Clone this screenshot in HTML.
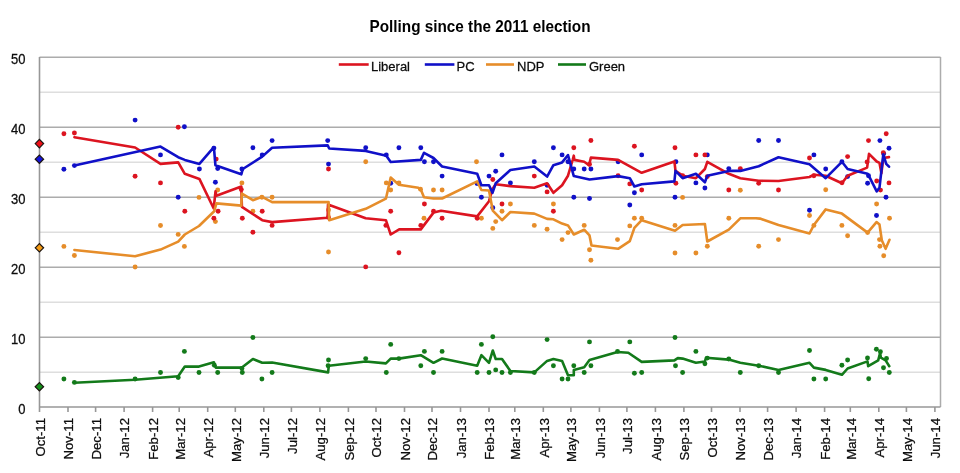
<!DOCTYPE html>
<html><head><meta charset="utf-8"><style>
html,body{margin:0;padding:0;background:#fff;}
body{width:960px;height:473px;overflow:hidden;}
svg{display:block;filter:blur(0.3px);}
.ax{font-family:"Liberation Sans",sans-serif;font-size:13px;fill:#0d0d0d;stroke:#0d0d0d;stroke-width:0.25px;}
.xl{font-size:13.2px;}
.title{font-family:"Liberation Sans",sans-serif;font-size:15.3px;font-weight:bold;fill:#000;}
</style></head><body>
<svg width="960" height="473" viewBox="0 0 960 473">
<rect width="960" height="473" fill="#fff"/>
<line x1="39.5" x2="940.5" y1="372.2" y2="372.2" stroke="#dedede" stroke-width="1.4"/>
<line x1="39.5" x2="940.5" y1="302.2" y2="302.2" stroke="#dedede" stroke-width="1.4"/>
<line x1="39.5" x2="940.5" y1="232.2" y2="232.2" stroke="#dedede" stroke-width="1.4"/>
<line x1="39.5" x2="940.5" y1="162.2" y2="162.2" stroke="#dedede" stroke-width="1.4"/>
<line x1="39.5" x2="940.5" y1="92.19999999999999" y2="92.19999999999999" stroke="#dedede" stroke-width="1.4"/>
<line x1="39.5" x2="940.5" y1="337.2" y2="337.2" stroke="#acacac" stroke-width="1.5"/>
<line x1="39.5" x2="940.5" y1="267.2" y2="267.2" stroke="#acacac" stroke-width="1.5"/>
<line x1="39.5" x2="940.5" y1="197.2" y2="197.2" stroke="#acacac" stroke-width="1.5"/>
<line x1="39.5" x2="940.5" y1="127.19999999999999" y2="127.19999999999999" stroke="#acacac" stroke-width="1.5"/>
<line x1="39.5" x2="940.5" y1="57.19999999999999" y2="57.19999999999999" stroke="#acacac" stroke-width="1.5"/>
<line x1="940.5" x2="940.5" y1="57.0" y2="407.0" stroke="#acacac" stroke-width="1.5"/>
<line x1="39.5" x2="39.5" y1="57.0" y2="407.0" stroke="#979797" stroke-width="1.6"/>
<line x1="39.5" x2="940.5" y1="407.0" y2="407.0" stroke="#979797" stroke-width="1.6"/>
<line x1="39.5" x2="39.5" y1="407.0" y2="412.0" stroke="#979797" stroke-width="1.6"/>
<line x1="68.0" x2="68.0" y1="407.0" y2="412.0" stroke="#979797" stroke-width="1.6"/>
<line x1="95.6" x2="95.6" y1="407.0" y2="412.0" stroke="#979797" stroke-width="1.6"/>
<line x1="124.1" x2="124.1" y1="407.0" y2="412.0" stroke="#979797" stroke-width="1.6"/>
<line x1="152.6" x2="152.6" y1="407.0" y2="412.0" stroke="#979797" stroke-width="1.6"/>
<line x1="179.2" x2="179.2" y1="407.0" y2="412.0" stroke="#979797" stroke-width="1.6"/>
<line x1="207.7" x2="207.7" y1="407.0" y2="412.0" stroke="#979797" stroke-width="1.6"/>
<line x1="235.3" x2="235.3" y1="407.0" y2="412.0" stroke="#979797" stroke-width="1.6"/>
<line x1="263.8" x2="263.8" y1="407.0" y2="412.0" stroke="#979797" stroke-width="1.6"/>
<line x1="291.4" x2="291.4" y1="407.0" y2="412.0" stroke="#979797" stroke-width="1.6"/>
<line x1="319.9" x2="319.9" y1="407.0" y2="412.0" stroke="#979797" stroke-width="1.6"/>
<line x1="348.4" x2="348.4" y1="407.0" y2="412.0" stroke="#979797" stroke-width="1.6"/>
<line x1="376.0" x2="376.0" y1="407.0" y2="412.0" stroke="#979797" stroke-width="1.6"/>
<line x1="404.5" x2="404.5" y1="407.0" y2="412.0" stroke="#979797" stroke-width="1.6"/>
<line x1="432.0" x2="432.0" y1="407.0" y2="412.0" stroke="#979797" stroke-width="1.6"/>
<line x1="460.5" x2="460.5" y1="407.0" y2="412.0" stroke="#979797" stroke-width="1.6"/>
<line x1="489.0" x2="489.0" y1="407.0" y2="412.0" stroke="#979797" stroke-width="1.6"/>
<line x1="514.8" x2="514.8" y1="407.0" y2="412.0" stroke="#979797" stroke-width="1.6"/>
<line x1="543.3" x2="543.3" y1="407.0" y2="412.0" stroke="#979797" stroke-width="1.6"/>
<line x1="570.9" x2="570.9" y1="407.0" y2="412.0" stroke="#979797" stroke-width="1.6"/>
<line x1="599.4" x2="599.4" y1="407.0" y2="412.0" stroke="#979797" stroke-width="1.6"/>
<line x1="626.9" x2="626.9" y1="407.0" y2="412.0" stroke="#979797" stroke-width="1.6"/>
<line x1="655.4" x2="655.4" y1="407.0" y2="412.0" stroke="#979797" stroke-width="1.6"/>
<line x1="683.9" x2="683.9" y1="407.0" y2="412.0" stroke="#979797" stroke-width="1.6"/>
<line x1="711.5" x2="711.5" y1="407.0" y2="412.0" stroke="#979797" stroke-width="1.6"/>
<line x1="740.0" x2="740.0" y1="407.0" y2="412.0" stroke="#979797" stroke-width="1.6"/>
<line x1="767.6" x2="767.6" y1="407.0" y2="412.0" stroke="#979797" stroke-width="1.6"/>
<line x1="796.1" x2="796.1" y1="407.0" y2="412.0" stroke="#979797" stroke-width="1.6"/>
<line x1="824.6" x2="824.6" y1="407.0" y2="412.0" stroke="#979797" stroke-width="1.6"/>
<line x1="850.3" x2="850.3" y1="407.0" y2="412.0" stroke="#979797" stroke-width="1.6"/>
<line x1="878.8" x2="878.8" y1="407.0" y2="412.0" stroke="#979797" stroke-width="1.6"/>
<line x1="906.4" x2="906.4" y1="407.0" y2="412.0" stroke="#979797" stroke-width="1.6"/>
<line x1="934.9" x2="934.9" y1="407.0" y2="412.0" stroke="#979797" stroke-width="1.6"/>
<text transform="translate(25.5,413.6) scale(1,1.1)" text-anchor="end" class="ax">0</text>
<text transform="translate(25.5,343.6) scale(1,1.1)" text-anchor="end" class="ax">10</text>
<text transform="translate(25.5,273.6) scale(1,1.1)" text-anchor="end" class="ax">20</text>
<text transform="translate(25.5,203.6) scale(1,1.1)" text-anchor="end" class="ax">30</text>
<text transform="translate(25.5,133.6) scale(1,1.1)" text-anchor="end" class="ax">40</text>
<text transform="translate(25.5,63.6) scale(1,1.1)" text-anchor="end" class="ax">50</text>
<text transform="translate(44.8,418) rotate(-90)" text-anchor="end" class="ax xl">Oct-11</text>
<text transform="translate(73.3,418) rotate(-90)" text-anchor="end" class="ax xl">Nov-11</text>
<text transform="translate(100.9,418) rotate(-90)" text-anchor="end" class="ax xl">Dec-11</text>
<text transform="translate(129.4,418) rotate(-90)" text-anchor="end" class="ax xl">Jan-12</text>
<text transform="translate(157.9,418) rotate(-90)" text-anchor="end" class="ax xl">Feb-12</text>
<text transform="translate(184.5,418) rotate(-90)" text-anchor="end" class="ax xl">Mar-12</text>
<text transform="translate(213.0,418) rotate(-90)" text-anchor="end" class="ax xl">Apr-12</text>
<text transform="translate(240.6,418) rotate(-90)" text-anchor="end" class="ax xl">May-12</text>
<text transform="translate(269.1,418) rotate(-90)" text-anchor="end" class="ax xl">Jun-12</text>
<text transform="translate(296.7,418) rotate(-90)" text-anchor="end" class="ax xl">Jul-12</text>
<text transform="translate(325.2,418) rotate(-90)" text-anchor="end" class="ax xl">Aug-12</text>
<text transform="translate(353.7,418) rotate(-90)" text-anchor="end" class="ax xl">Sep-12</text>
<text transform="translate(381.3,418) rotate(-90)" text-anchor="end" class="ax xl">Oct-12</text>
<text transform="translate(409.8,418) rotate(-90)" text-anchor="end" class="ax xl">Nov-12</text>
<text transform="translate(437.3,418) rotate(-90)" text-anchor="end" class="ax xl">Dec-12</text>
<text transform="translate(465.8,418) rotate(-90)" text-anchor="end" class="ax xl">Jan-13</text>
<text transform="translate(494.3,418) rotate(-90)" text-anchor="end" class="ax xl">Feb-13</text>
<text transform="translate(520.1,418) rotate(-90)" text-anchor="end" class="ax xl">Mar-13</text>
<text transform="translate(548.6,418) rotate(-90)" text-anchor="end" class="ax xl">Apr-13</text>
<text transform="translate(576.2,418) rotate(-90)" text-anchor="end" class="ax xl">May-13</text>
<text transform="translate(604.7,418) rotate(-90)" text-anchor="end" class="ax xl">Jun-13</text>
<text transform="translate(632.2,418) rotate(-90)" text-anchor="end" class="ax xl">Jul-13</text>
<text transform="translate(660.7,418) rotate(-90)" text-anchor="end" class="ax xl">Aug-13</text>
<text transform="translate(689.2,418) rotate(-90)" text-anchor="end" class="ax xl">Sep-13</text>
<text transform="translate(716.8,418) rotate(-90)" text-anchor="end" class="ax xl">Oct-13</text>
<text transform="translate(745.3,418) rotate(-90)" text-anchor="end" class="ax xl">Nov-13</text>
<text transform="translate(772.9,418) rotate(-90)" text-anchor="end" class="ax xl">Dec-13</text>
<text transform="translate(801.4,418) rotate(-90)" text-anchor="end" class="ax xl">Jan-14</text>
<text transform="translate(829.9,418) rotate(-90)" text-anchor="end" class="ax xl">Feb-14</text>
<text transform="translate(855.6,418) rotate(-90)" text-anchor="end" class="ax xl">Mar-14</text>
<text transform="translate(884.1,418) rotate(-90)" text-anchor="end" class="ax xl">Apr-14</text>
<text transform="translate(911.7,418) rotate(-90)" text-anchor="end" class="ax xl">May-14</text>
<text transform="translate(940.2,418) rotate(-90)" text-anchor="end" class="ax xl">Jun-14</text>
<circle cx="63.9" cy="379.0" r="2.45" fill="#137a1a"/>
<circle cx="74.4" cy="382.4" r="2.45" fill="#137a1a"/>
<circle cx="135.1" cy="379.0" r="2.45" fill="#137a1a"/>
<circle cx="160.5" cy="372.5" r="2.45" fill="#137a1a"/>
<circle cx="178.2" cy="377.5" r="2.45" fill="#137a1a"/>
<circle cx="184.4" cy="351.4" r="2.45" fill="#137a1a"/>
<circle cx="199.0" cy="372.5" r="2.45" fill="#137a1a"/>
<circle cx="214.3" cy="365.3" r="2.45" fill="#137a1a"/>
<circle cx="217.7" cy="372.5" r="2.45" fill="#137a1a"/>
<circle cx="241.9" cy="368.5" r="2.45" fill="#137a1a"/>
<circle cx="242.3" cy="372.5" r="2.45" fill="#137a1a"/>
<circle cx="252.9" cy="337.5" r="2.45" fill="#137a1a"/>
<circle cx="261.9" cy="379.0" r="2.45" fill="#137a1a"/>
<circle cx="272.1" cy="372.5" r="2.45" fill="#137a1a"/>
<circle cx="328.5" cy="360.0" r="2.45" fill="#137a1a"/>
<circle cx="328.1" cy="365.7" r="2.45" fill="#137a1a"/>
<circle cx="365.7" cy="358.6" r="2.45" fill="#137a1a"/>
<circle cx="386.3" cy="372.5" r="2.45" fill="#137a1a"/>
<circle cx="390.7" cy="344.4" r="2.45" fill="#137a1a"/>
<circle cx="398.9" cy="358.6" r="2.45" fill="#137a1a"/>
<circle cx="420.8" cy="365.7" r="2.45" fill="#137a1a"/>
<circle cx="424.4" cy="351.4" r="2.45" fill="#137a1a"/>
<circle cx="433.5" cy="372.5" r="2.45" fill="#137a1a"/>
<circle cx="442.1" cy="351.4" r="2.45" fill="#137a1a"/>
<circle cx="477.2" cy="372.5" r="2.45" fill="#137a1a"/>
<circle cx="481.4" cy="344.4" r="2.45" fill="#137a1a"/>
<circle cx="489.0" cy="372.5" r="2.45" fill="#137a1a"/>
<circle cx="492.8" cy="336.8" r="2.45" fill="#137a1a"/>
<circle cx="495.7" cy="369.9" r="2.45" fill="#137a1a"/>
<circle cx="502.0" cy="372.5" r="2.45" fill="#137a1a"/>
<circle cx="510.4" cy="372.5" r="2.45" fill="#137a1a"/>
<circle cx="534.3" cy="372.5" r="2.45" fill="#137a1a"/>
<circle cx="547.1" cy="339.6" r="2.45" fill="#137a1a"/>
<circle cx="553.4" cy="365.7" r="2.45" fill="#137a1a"/>
<circle cx="562.1" cy="379.0" r="2.45" fill="#137a1a"/>
<circle cx="568.0" cy="379.0" r="2.45" fill="#137a1a"/>
<circle cx="573.8" cy="365.7" r="2.45" fill="#137a1a"/>
<circle cx="584.2" cy="372.5" r="2.45" fill="#137a1a"/>
<circle cx="589.5" cy="341.9" r="2.45" fill="#137a1a"/>
<circle cx="590.9" cy="365.7" r="2.45" fill="#137a1a"/>
<circle cx="617.5" cy="351.4" r="2.45" fill="#137a1a"/>
<circle cx="629.8" cy="341.9" r="2.45" fill="#137a1a"/>
<circle cx="634.4" cy="373.3" r="2.45" fill="#137a1a"/>
<circle cx="641.7" cy="372.5" r="2.45" fill="#137a1a"/>
<circle cx="675.0" cy="337.5" r="2.45" fill="#137a1a"/>
<circle cx="675.5" cy="365.7" r="2.45" fill="#137a1a"/>
<circle cx="682.6" cy="372.5" r="2.45" fill="#137a1a"/>
<circle cx="695.9" cy="351.4" r="2.45" fill="#137a1a"/>
<circle cx="704.9" cy="363.8" r="2.45" fill="#137a1a"/>
<circle cx="707.3" cy="358.1" r="2.45" fill="#137a1a"/>
<circle cx="728.8" cy="359.0" r="2.45" fill="#137a1a"/>
<circle cx="740.3" cy="372.5" r="2.45" fill="#137a1a"/>
<circle cx="758.7" cy="365.7" r="2.45" fill="#137a1a"/>
<circle cx="778.5" cy="372.5" r="2.45" fill="#137a1a"/>
<circle cx="809.5" cy="350.5" r="2.45" fill="#137a1a"/>
<circle cx="813.9" cy="379.0" r="2.45" fill="#137a1a"/>
<circle cx="825.7" cy="379.0" r="2.45" fill="#137a1a"/>
<circle cx="841.9" cy="365.3" r="2.45" fill="#137a1a"/>
<circle cx="847.6" cy="360.0" r="2.45" fill="#137a1a"/>
<circle cx="867.5" cy="358.0" r="2.45" fill="#137a1a"/>
<circle cx="868.7" cy="378.8" r="2.45" fill="#137a1a"/>
<circle cx="876.4" cy="349.3" r="2.45" fill="#137a1a"/>
<circle cx="880.4" cy="351.7" r="2.45" fill="#137a1a"/>
<circle cx="883.5" cy="367.7" r="2.45" fill="#137a1a"/>
<circle cx="886.5" cy="358.5" r="2.45" fill="#137a1a"/>
<circle cx="889.3" cy="372.5" r="2.45" fill="#137a1a"/>
<circle cx="477.0" cy="183.5" r="2.45" fill="#1010c8"/>
<circle cx="63.9" cy="169.2" r="2.45" fill="#1010c8"/>
<circle cx="74.4" cy="165.6" r="2.45" fill="#1010c8"/>
<circle cx="135.1" cy="120.1" r="2.45" fill="#1010c8"/>
<circle cx="160.5" cy="154.9" r="2.45" fill="#1010c8"/>
<circle cx="184.4" cy="126.8" r="2.45" fill="#1010c8"/>
<circle cx="178.2" cy="197.2" r="2.45" fill="#1010c8"/>
<circle cx="199.4" cy="169.0" r="2.45" fill="#1010c8"/>
<circle cx="213.9" cy="148.1" r="2.45" fill="#1010c8"/>
<circle cx="215.4" cy="182.3" r="2.45" fill="#1010c8"/>
<circle cx="217.7" cy="168.6" r="2.45" fill="#1010c8"/>
<circle cx="241.9" cy="169.0" r="2.45" fill="#1010c8"/>
<circle cx="252.9" cy="147.7" r="2.45" fill="#1010c8"/>
<circle cx="262.2" cy="154.9" r="2.45" fill="#1010c8"/>
<circle cx="272.1" cy="140.6" r="2.45" fill="#1010c8"/>
<circle cx="327.7" cy="140.6" r="2.45" fill="#1010c8"/>
<circle cx="328.5" cy="164.1" r="2.45" fill="#1010c8"/>
<circle cx="365.7" cy="147.7" r="2.45" fill="#1010c8"/>
<circle cx="386.3" cy="154.9" r="2.45" fill="#1010c8"/>
<circle cx="390.7" cy="183.3" r="2.45" fill="#1010c8"/>
<circle cx="398.9" cy="147.7" r="2.45" fill="#1010c8"/>
<circle cx="420.8" cy="147.7" r="2.45" fill="#1010c8"/>
<circle cx="424.4" cy="161.8" r="2.45" fill="#1010c8"/>
<circle cx="433.5" cy="161.8" r="2.45" fill="#1010c8"/>
<circle cx="442.1" cy="176.1" r="2.45" fill="#1010c8"/>
<circle cx="481.4" cy="197.2" r="2.45" fill="#1010c8"/>
<circle cx="489.0" cy="176.1" r="2.45" fill="#1010c8"/>
<circle cx="495.7" cy="171.3" r="2.45" fill="#1010c8"/>
<circle cx="502.0" cy="154.9" r="2.45" fill="#1010c8"/>
<circle cx="510.4" cy="182.9" r="2.45" fill="#1010c8"/>
<circle cx="534.3" cy="161.8" r="2.45" fill="#1010c8"/>
<circle cx="547.1" cy="185.2" r="2.45" fill="#1010c8"/>
<circle cx="553.4" cy="147.7" r="2.45" fill="#1010c8"/>
<circle cx="562.1" cy="154.9" r="2.45" fill="#1010c8"/>
<circle cx="568.0" cy="161.8" r="2.45" fill="#1010c8"/>
<circle cx="573.8" cy="169.0" r="2.45" fill="#1010c8"/>
<circle cx="573.8" cy="197.2" r="2.45" fill="#1010c8"/>
<circle cx="584.2" cy="169.0" r="2.45" fill="#1010c8"/>
<circle cx="590.9" cy="169.0" r="2.45" fill="#1010c8"/>
<circle cx="589.5" cy="198.5" r="2.45" fill="#1010c8"/>
<circle cx="618.1" cy="161.8" r="2.45" fill="#1010c8"/>
<circle cx="492.8" cy="207.8" r="2.45" fill="#1010c8"/>
<circle cx="629.8" cy="205.0" r="2.45" fill="#1010c8"/>
<circle cx="634.4" cy="192.8" r="2.45" fill="#1010c8"/>
<circle cx="641.7" cy="154.9" r="2.45" fill="#1010c8"/>
<circle cx="675.9" cy="161.8" r="2.45" fill="#1010c8"/>
<circle cx="675.0" cy="197.2" r="2.45" fill="#1010c8"/>
<circle cx="695.9" cy="182.9" r="2.45" fill="#1010c8"/>
<circle cx="704.9" cy="188.0" r="2.45" fill="#1010c8"/>
<circle cx="707.3" cy="154.9" r="2.45" fill="#1010c8"/>
<circle cx="728.8" cy="168.6" r="2.45" fill="#1010c8"/>
<circle cx="758.7" cy="140.5" r="2.45" fill="#1010c8"/>
<circle cx="778.5" cy="140.5" r="2.45" fill="#1010c8"/>
<circle cx="809.5" cy="210.3" r="2.45" fill="#1010c8"/>
<circle cx="813.9" cy="154.9" r="2.45" fill="#1010c8"/>
<circle cx="825.7" cy="169.0" r="2.45" fill="#1010c8"/>
<circle cx="841.9" cy="161.8" r="2.45" fill="#1010c8"/>
<circle cx="847.6" cy="176.6" r="2.45" fill="#1010c8"/>
<circle cx="867.6" cy="183.3" r="2.45" fill="#1010c8"/>
<circle cx="868.5" cy="175.7" r="2.45" fill="#1010c8"/>
<circle cx="876.5" cy="215.5" r="2.45" fill="#1010c8"/>
<circle cx="879.9" cy="140.6" r="2.45" fill="#1010c8"/>
<circle cx="883.7" cy="153.8" r="2.45" fill="#1010c8"/>
<circle cx="889.0" cy="148.2" r="2.45" fill="#1010c8"/>
<circle cx="886.0" cy="197.2" r="2.45" fill="#1010c8"/>
<circle cx="420.5" cy="189.3" r="2.45" fill="#e68d2a"/>
<circle cx="63.9" cy="246.4" r="2.45" fill="#e68d2a"/>
<circle cx="74.4" cy="255.5" r="2.45" fill="#e68d2a"/>
<circle cx="135.1" cy="267.0" r="2.45" fill="#e68d2a"/>
<circle cx="160.5" cy="225.5" r="2.45" fill="#e68d2a"/>
<circle cx="178.2" cy="234.4" r="2.45" fill="#e68d2a"/>
<circle cx="184.4" cy="246.4" r="2.45" fill="#e68d2a"/>
<circle cx="199.0" cy="197.4" r="2.45" fill="#e68d2a"/>
<circle cx="217.7" cy="190.0" r="2.45" fill="#e68d2a"/>
<circle cx="215.4" cy="221.6" r="2.45" fill="#e68d2a"/>
<circle cx="241.9" cy="182.9" r="2.45" fill="#e68d2a"/>
<circle cx="252.9" cy="211.3" r="2.45" fill="#e68d2a"/>
<circle cx="261.9" cy="197.2" r="2.45" fill="#e68d2a"/>
<circle cx="272.1" cy="197.2" r="2.45" fill="#e68d2a"/>
<circle cx="328.5" cy="252.0" r="2.45" fill="#e68d2a"/>
<circle cx="328.5" cy="210.0" r="2.45" fill="#e68d2a"/>
<circle cx="365.7" cy="161.8" r="2.45" fill="#e68d2a"/>
<circle cx="386.3" cy="182.9" r="2.45" fill="#e68d2a"/>
<circle cx="390.7" cy="190.0" r="2.45" fill="#e68d2a"/>
<circle cx="398.9" cy="182.9" r="2.45" fill="#e68d2a"/>
<circle cx="433.5" cy="190.0" r="2.45" fill="#e68d2a"/>
<circle cx="442.1" cy="190.0" r="2.45" fill="#e68d2a"/>
<circle cx="424.0" cy="218.3" r="2.45" fill="#e68d2a"/>
<circle cx="476.5" cy="161.8" r="2.45" fill="#e68d2a"/>
<circle cx="481.4" cy="218.3" r="2.45" fill="#e68d2a"/>
<circle cx="492.8" cy="228.4" r="2.45" fill="#e68d2a"/>
<circle cx="495.7" cy="221.6" r="2.45" fill="#e68d2a"/>
<circle cx="502.0" cy="211.3" r="2.45" fill="#e68d2a"/>
<circle cx="510.4" cy="204.0" r="2.45" fill="#e68d2a"/>
<circle cx="534.3" cy="225.4" r="2.45" fill="#e68d2a"/>
<circle cx="547.1" cy="229.2" r="2.45" fill="#e68d2a"/>
<circle cx="553.4" cy="204.0" r="2.45" fill="#e68d2a"/>
<circle cx="562.1" cy="239.6" r="2.45" fill="#e68d2a"/>
<circle cx="568.0" cy="232.6" r="2.45" fill="#e68d2a"/>
<circle cx="584.2" cy="225.4" r="2.45" fill="#e68d2a"/>
<circle cx="589.5" cy="249.7" r="2.45" fill="#e68d2a"/>
<circle cx="590.9" cy="260.2" r="2.45" fill="#e68d2a"/>
<circle cx="617.5" cy="239.6" r="2.45" fill="#e68d2a"/>
<circle cx="629.8" cy="225.9" r="2.45" fill="#e68d2a"/>
<circle cx="634.4" cy="218.3" r="2.45" fill="#e68d2a"/>
<circle cx="641.7" cy="218.3" r="2.45" fill="#e68d2a"/>
<circle cx="675.0" cy="225.4" r="2.45" fill="#e68d2a"/>
<circle cx="675.0" cy="253.0" r="2.45" fill="#e68d2a"/>
<circle cx="682.6" cy="197.4" r="2.45" fill="#e68d2a"/>
<circle cx="695.9" cy="253.0" r="2.45" fill="#e68d2a"/>
<circle cx="707.3" cy="246.3" r="2.45" fill="#e68d2a"/>
<circle cx="728.8" cy="218.3" r="2.45" fill="#e68d2a"/>
<circle cx="740.3" cy="190.3" r="2.45" fill="#e68d2a"/>
<circle cx="758.7" cy="246.3" r="2.45" fill="#e68d2a"/>
<circle cx="778.5" cy="239.6" r="2.45" fill="#e68d2a"/>
<circle cx="809.5" cy="215.5" r="2.45" fill="#e68d2a"/>
<circle cx="813.9" cy="225.4" r="2.45" fill="#e68d2a"/>
<circle cx="825.7" cy="189.8" r="2.45" fill="#e68d2a"/>
<circle cx="841.9" cy="225.4" r="2.45" fill="#e68d2a"/>
<circle cx="847.6" cy="235.8" r="2.45" fill="#e68d2a"/>
<circle cx="867.6" cy="232.6" r="2.45" fill="#e68d2a"/>
<circle cx="876.6" cy="204.0" r="2.45" fill="#e68d2a"/>
<circle cx="879.5" cy="239.6" r="2.45" fill="#e68d2a"/>
<circle cx="879.9" cy="246.3" r="2.45" fill="#e68d2a"/>
<circle cx="883.7" cy="255.8" r="2.45" fill="#e68d2a"/>
<circle cx="889.5" cy="218.3" r="2.45" fill="#e68d2a"/>
<circle cx="842.0" cy="182.8" r="2.45" fill="#dc1420"/>
<circle cx="63.9" cy="133.8" r="2.45" fill="#dc1420"/>
<circle cx="74.4" cy="133.0" r="2.45" fill="#dc1420"/>
<circle cx="135.1" cy="176.2" r="2.45" fill="#dc1420"/>
<circle cx="160.5" cy="182.9" r="2.45" fill="#dc1420"/>
<circle cx="178.2" cy="127.3" r="2.45" fill="#dc1420"/>
<circle cx="184.8" cy="211.2" r="2.45" fill="#dc1420"/>
<circle cx="216.2" cy="159.1" r="2.45" fill="#dc1420"/>
<circle cx="241.3" cy="189.6" r="2.45" fill="#dc1420"/>
<circle cx="328.5" cy="169.0" r="2.45" fill="#dc1420"/>
<circle cx="213.9" cy="218.3" r="2.45" fill="#dc1420"/>
<circle cx="218.1" cy="211.3" r="2.45" fill="#dc1420"/>
<circle cx="242.3" cy="218.3" r="2.45" fill="#dc1420"/>
<circle cx="252.9" cy="232.2" r="2.45" fill="#dc1420"/>
<circle cx="262.2" cy="211.3" r="2.45" fill="#dc1420"/>
<circle cx="272.1" cy="225.4" r="2.45" fill="#dc1420"/>
<circle cx="328.5" cy="217.4" r="2.45" fill="#dc1420"/>
<circle cx="365.7" cy="266.9" r="2.45" fill="#dc1420"/>
<circle cx="385.9" cy="225.4" r="2.45" fill="#dc1420"/>
<circle cx="390.7" cy="211.3" r="2.45" fill="#dc1420"/>
<circle cx="398.9" cy="252.8" r="2.45" fill="#dc1420"/>
<circle cx="420.8" cy="225.4" r="2.45" fill="#dc1420"/>
<circle cx="424.4" cy="204.0" r="2.45" fill="#dc1420"/>
<circle cx="433.5" cy="211.3" r="2.45" fill="#dc1420"/>
<circle cx="442.1" cy="218.3" r="2.45" fill="#dc1420"/>
<circle cx="477.2" cy="218.3" r="2.45" fill="#dc1420"/>
<circle cx="502.0" cy="204.0" r="2.45" fill="#dc1420"/>
<circle cx="492.8" cy="179.5" r="2.45" fill="#dc1420"/>
<circle cx="534.3" cy="176.1" r="2.45" fill="#dc1420"/>
<circle cx="547.1" cy="191.9" r="2.45" fill="#dc1420"/>
<circle cx="553.4" cy="211.3" r="2.45" fill="#dc1420"/>
<circle cx="573.8" cy="147.7" r="2.45" fill="#dc1420"/>
<circle cx="590.9" cy="140.5" r="2.45" fill="#dc1420"/>
<circle cx="589.5" cy="164.3" r="2.45" fill="#dc1420"/>
<circle cx="618.1" cy="175.7" r="2.45" fill="#dc1420"/>
<circle cx="629.8" cy="183.9" r="2.45" fill="#dc1420"/>
<circle cx="634.4" cy="146.2" r="2.45" fill="#dc1420"/>
<circle cx="641.7" cy="190.0" r="2.45" fill="#dc1420"/>
<circle cx="675.0" cy="147.7" r="2.45" fill="#dc1420"/>
<circle cx="675.9" cy="183.3" r="2.45" fill="#dc1420"/>
<circle cx="682.6" cy="175.7" r="2.45" fill="#dc1420"/>
<circle cx="695.9" cy="154.9" r="2.45" fill="#dc1420"/>
<circle cx="704.9" cy="154.9" r="2.45" fill="#dc1420"/>
<circle cx="707.3" cy="176.6" r="2.45" fill="#dc1420"/>
<circle cx="728.8" cy="190.0" r="2.45" fill="#dc1420"/>
<circle cx="740.3" cy="168.6" r="2.45" fill="#dc1420"/>
<circle cx="758.7" cy="183.3" r="2.45" fill="#dc1420"/>
<circle cx="778.5" cy="190.0" r="2.45" fill="#dc1420"/>
<circle cx="809.5" cy="158.0" r="2.45" fill="#dc1420"/>
<circle cx="813.9" cy="175.7" r="2.45" fill="#dc1420"/>
<circle cx="847.6" cy="156.6" r="2.45" fill="#dc1420"/>
<circle cx="868.5" cy="140.6" r="2.45" fill="#dc1420"/>
<circle cx="867.1" cy="161.9" r="2.45" fill="#dc1420"/>
<circle cx="876.7" cy="181.0" r="2.45" fill="#dc1420"/>
<circle cx="880.5" cy="190.1" r="2.45" fill="#dc1420"/>
<circle cx="883.3" cy="152.8" r="2.45" fill="#dc1420"/>
<circle cx="886.2" cy="133.7" r="2.45" fill="#dc1420"/>
<circle cx="889.0" cy="182.9" r="2.45" fill="#dc1420"/>
<polyline points="74.4,137.2 135.1,147.5 160.5,163.9 178.2,162.4 184.8,173.8 199.4,178.9 213.7,208.5 215.5,191.4 216.4,195.8 241.3,186.5 241.9,206.9 262.2,220.2 272.1,222.1 327.6,217.7 328.0,204.5 365.7,218.3 385.9,220.2 390.7,234.5 399.2,229.4 420.8,229.4 433.5,212.6 441.1,210.7 477.2,216.4 489.0,201.2 492.5,189.0 495.7,184.2 510.4,186.1 534.3,187.7 547.1,183.3 553.4,192.8 562.1,185.2 568.0,175.7 572.8,159.5 573.8,155.7 574.3,159.9 584.2,161.8 589.0,165.2 590.9,157.6 618.1,159.9 641.7,172.8 674.4,161.4 675.5,170.9 682.6,175.7 695.9,178.2 704.9,169.0 707.3,161.8 728.8,173.8 740.3,178.2 758.7,180.8 778.5,181.0 809.5,177.0 813.9,174.7 825.7,175.7 841.9,183.3 847.6,175.7 867.1,167.6 869.0,153.9 876.7,161.5 879.5,162.9 881.4,173.3 883.3,158.0 889.0,157.1" fill="none" stroke="#dc1420" stroke-width="2.6" stroke-linejoin="round" stroke-linecap="round"/>
<polyline points="74.4,250.0 135.1,256.3 160.5,249.6 178.2,241.6 184.8,234.5 199.0,226.0 214.2,211.2 216.4,203.4 241.3,205.6 241.9,193.6 252.9,200.2 262.2,196.8 272.1,202.1 328.6,202.1 329.2,220.2 365.7,208.8 385.9,198.7 390.7,177.6 398.9,184.8 418.3,187.7 420.8,189.6 424.0,197.2 433.5,198.5 442.1,198.5 477.2,181.4 481.4,190.0 489.0,190.5 492.8,210.7 502.0,220.2 510.4,212.0 534.3,213.6 547.1,218.9 553.4,219.3 562.1,223.6 568.0,225.4 573.8,234.5 584.2,229.7 589.5,235.4 591.5,245.5 618.1,248.8 629.8,241.2 634.4,227.8 641.7,220.2 675.0,230.7 682.6,225.0 704.9,224.0 707.3,241.5 728.8,229.7 740.3,218.3 755.9,218.3 760.0,218.6 778.5,225.0 809.5,233.5 813.9,225.0 825.7,209.4 841.9,213.6 867.6,232.6 876.5,222.1 879.5,224.6 881.8,240.2 885.6,248.8 889.5,239.8" fill="none" stroke="#e68d2a" stroke-width="2.6" stroke-linejoin="round" stroke-linecap="round"/>
<polyline points="74.4,165.6 160.5,146.6 178.2,157.2 184.8,159.9 199.4,163.9 213.9,147.1 215.4,165.2 241.3,174.3 242.8,169.0 262.2,156.6 272.1,147.7 327.7,145.4 329.2,148.5 365.7,150.9 386.3,155.7 390.7,162.0 420.8,159.9 424.0,152.8 433.5,158.0 442.1,166.5 477.2,173.8 481.4,185.2 489.0,185.2 492.5,192.8 495.7,183.3 510.4,170.0 534.3,166.5 547.1,176.6 553.4,165.2 562.1,162.4 568.0,155.1 573.8,176.1 589.5,179.5 618.1,176.1 629.8,178.2 634.4,186.5 641.7,184.2 674.4,181.4 675.5,170.9 682.6,178.2 695.9,173.8 704.9,182.3 707.3,175.7 728.8,170.9 740.3,170.9 758.7,166.2 778.5,157.2 809.5,164.3 825.7,178.2 841.9,161.8 847.6,169.0 867.6,173.8 868.5,175.2 876.7,191.4 879.5,187.6 883.3,154.3 886.2,163.8 889.0,166.7" fill="none" stroke="#1010c8" stroke-width="2.6" stroke-linejoin="round" stroke-linecap="round"/>
<polyline points="74.4,382.8 135.1,379.8 178.2,376.2 184.8,366.6 199.0,366.6 213.9,362.3 215.8,367.6 241.9,367.6 252.9,359.0 262.2,362.8 272.1,362.5 328.1,372.4 328.8,365.7 365.7,361.5 385.9,363.4 390.7,358.6 398.9,358.6 420.8,355.2 433.5,362.8 442.1,358.5 477.2,365.7 481.4,355.2 489.0,362.8 492.8,350.5 495.7,359.0 502.0,359.0 510.4,371.0 534.3,372.4 547.1,360.9 553.4,359.0 562.1,360.9 568.0,375.2 573.8,375.2 573.8,369.9 584.2,367.2 589.5,360.0 617.5,352.0 628.3,352.7 641.7,361.9 674.4,360.4 677.8,358.1 682.6,358.6 695.9,362.8 704.9,361.5 706.0,357.7 728.8,359.6 740.3,362.8 758.7,365.7 778.5,369.9 809.5,362.8 813.9,367.6 825.7,369.9 841.9,374.8 847.6,368.5 867.5,361.4 868.2,366.2 878.2,360.4 880.1,353.0 880.9,357.7 885.6,360.4 889.3,366.2" fill="none" stroke="#137a1a" stroke-width="2.6" stroke-linejoin="round" stroke-linecap="round"/>
<path d="M35.199999999999996,143.6 L39.4,139.4 L43.6,143.6 L39.4,147.79999999999998 Z" fill="#f01018" stroke="#1c1410" stroke-width="1.2"/>
<path d="M35.199999999999996,159.2 L39.4,155.0 L43.6,159.2 L39.4,163.39999999999998 Z" fill="#1414dc" stroke="#1c1410" stroke-width="1.2"/>
<path d="M35.199999999999996,247.8 L39.4,243.60000000000002 L43.6,247.8 L39.4,252.0 Z" fill="#f39a14" stroke="#1c1410" stroke-width="1.2"/>
<path d="M35.199999999999996,386.7 L39.4,382.5 L43.6,386.7 L39.4,390.9 Z" fill="#13901a" stroke="#1c1410" stroke-width="1.2"/>
<line x1="338.8" x2="368.7" y1="64.5" y2="64.5" stroke="#dc1420" stroke-width="2.6"/>
<text transform="translate(371,70.6) scale(1,1.04)" class="ax">Liberal</text>
<line x1="424.8" x2="454.4" y1="64.5" y2="64.5" stroke="#1010c8" stroke-width="2.6"/>
<text transform="translate(456.5,70.6) scale(1,1.04)" class="ax">PC</text>
<line x1="486" x2="514" y1="64.5" y2="64.5" stroke="#e68d2a" stroke-width="2.6"/>
<text transform="translate(517,70.6) scale(1,1.04)" class="ax">NDP</text>
<line x1="558" x2="586" y1="64.5" y2="64.5" stroke="#137a1a" stroke-width="2.6"/>
<text transform="translate(589,70.6) scale(1,1.04)" class="ax">Green</text>
<text transform="translate(480,32.4) scale(1,1.09)" text-anchor="middle" class="title">Polling since the 2011 election</text>
</svg>
</body></html>
